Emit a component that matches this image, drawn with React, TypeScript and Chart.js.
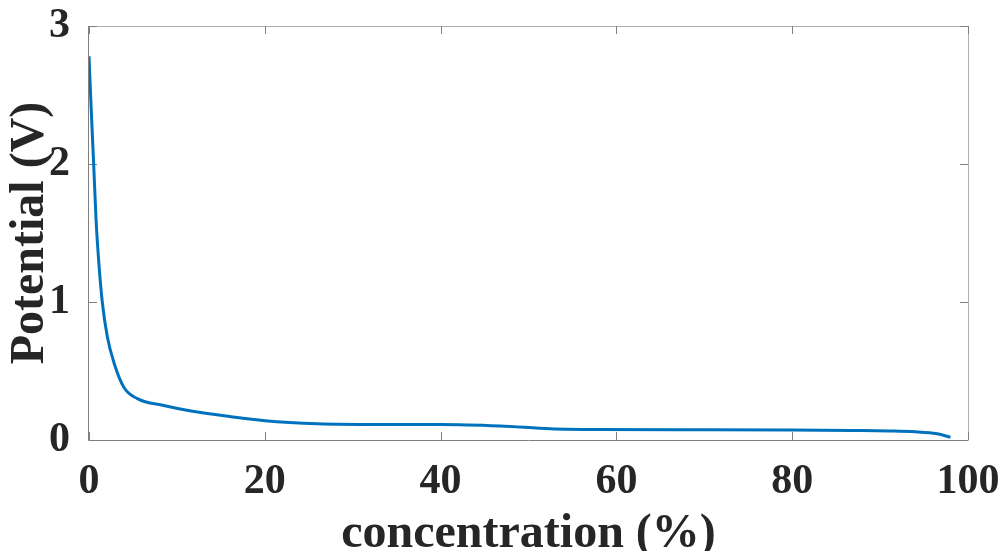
import React, { useEffect, useRef } from "react";
import { Chart, registerables } from "chart.js";

Chart.register(...registerables);

const concentration = [0, 0.25, 0.53, 0.8, 1.1, 1.51, 2.08, 2.84, 3.98, 5.5, 8.5, 11.6, 16, 20, 26, 33, 40, 46.8, 52.5, 58, 70, 80, 86.6, 91, 94, 96.5, 98];
const potential = [2.78, 2.4, 2.0, 1.6, 1.3, 1.0, 0.75, 0.56, 0.38, 0.3, 0.25, 0.21, 0.17, 0.14, 0.118, 0.113, 0.113, 0.102, 0.082, 0.076, 0.074, 0.072, 0.069, 0.066, 0.06, 0.045, 0.02];
const xTicks = [0, 20, 40, 60, 80, 100];
const yTicks = [0, 1, 2, 3];

const FONT = '"Liberation Serif", "Times New Roman", serif';
const TEXT = "#262626";

const boxPlugin = {
  id: "matlabBox",
  beforeDatasetsDraw(chart: any) {
    const { ctx, chartArea } = chart;
    const { left, right, top, bottom } = chartArea;
    const xs = chart.scales.x;
    const ys = chart.scales.y;
    ctx.save();
    ctx.lineWidth = 1;
    ctx.strokeStyle = "#b0b0b0";
    ctx.beginPath();
    ctx.moveTo(left, top + 0.5);
    ctx.lineTo(right + 0.5, top + 0.5);
    ctx.lineTo(right + 0.5, bottom);
    ctx.stroke();
    ctx.strokeStyle = "#808080";
    ctx.beginPath();
    ctx.moveTo(left - 0.5, top);
    ctx.lineTo(left - 0.5, bottom + 0.5);
    ctx.lineTo(right + 0.5, bottom + 0.5);
    ctx.stroke();
    const tl = 8;
    ctx.strokeStyle = "#808080";
    ctx.beginPath();
    xTicks.forEach((v) => {
      const px = Math.round(xs.getPixelForValue(v)) + 0.5;
      ctx.moveTo(px, bottom);
      ctx.lineTo(px, bottom - tl);
      ctx.moveTo(px, top);
      ctx.lineTo(px, top + tl);
    });
    yTicks.forEach((v) => {
      const py = Math.round(ys.getPixelForValue(v)) + 0.5;
      ctx.moveTo(left, py);
      ctx.lineTo(left + tl, py);
      ctx.moveTo(right, py);
      ctx.lineTo(right - tl, py);
    });
    ctx.stroke();
    ctx.restore();
  },
};

const zeroPad = (s: any) => {
  s.paddingLeft = 0;
  s.paddingRight = 0;
  s.paddingTop = 0;
  s.paddingBottom = 0;
};

export default function App() {
  const ref = useRef<HTMLCanvasElement>(null);
  useEffect(() => {
    if (!ref.current) return;
    const chart = new Chart(ref.current, {
      type: "line",
      data: {
        datasets: [
          {
            data: concentration.map((x, i) => ({ x, y: potential[i] })),
            borderColor: "#0072BD",
            borderWidth: 3,
            pointRadius: 0,
            cubicInterpolationMode: "monotone",
            fill: false,
          },
        ],
      },
      options: {
        animation: false,
        responsive: false,
        plugins: { legend: { display: false }, tooltip: { enabled: false } },
        layout: { padding: { top: 26, right: 35, left: 0, bottom: 0 } },
        scales: {
          x: {
            type: "linear",
            min: 0,
            max: 100,
            afterBuildTicks: (s: any) => {
              s.ticks = xTicks.map((v) => ({ value: v }));
            },
            afterFit: (s: any) => {
              s.height = 111;
              zeroPad(s);
            },
            grid: { display: false },
            border: { display: false },
            ticks: {
              color: TEXT,
              font: { family: FONT, size: 42, weight: "bold" },
              padding: 9,
              maxRotation: 0,
            },
            title: {
              display: true,
              text: "concentration (%)",
              color: TEXT,
              font: { family: FONT, size: 48, weight: "bold", lineHeight: 1 },
              padding: { top: 0, bottom: -8 },
            },
          },
          y: {
            type: "linear",
            min: 0,
            max: 3,
            afterBuildTicks: (s: any) => {
              s.ticks = yTicks.map((v) => ({ value: v }));
            },
            afterFit: (s: any) => {
              s.width = 89;
              zeroPad(s);
            },
            grid: { display: false },
            border: { display: false },
            ticks: {
              color: TEXT,
              font: { family: FONT, size: 42, weight: "bold" },
              padding: 11,
            },
            title: {
              display: true,
              text: "Potential (V)",
              color: TEXT,
              font: { family: FONT, size: 48, weight: "bold", lineHeight: 1 },
              padding: { top: 7, bottom: 0 },
            },
          },
        },
      },
      plugins: [boxPlugin],
    } as any);
    return () => chart.destroy();
  }, []);
  return (
    <div style={{ position: "fixed", left: 0, top: 0, width: 1003, height: 551, background: "#fff" }}>
      <canvas ref={ref} width={1003} height={551} />
    </div>
  );
}
